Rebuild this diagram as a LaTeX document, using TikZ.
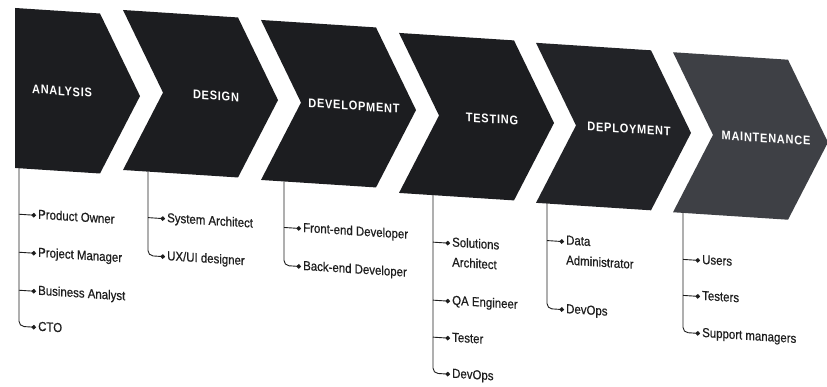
\documentclass[tikz,border=0pt]{standalone}
\usepackage{fontspec}
\setmainfont{Liberation Sans}
\newfontfamily\rolefont{Liberation Sans}[FakeStretch=0.88, FakeBold=0.6]
\newfontfamily\phasefont{Liberation Sans}[FakeStretch=0.88, LetterSpace=6]
\usepackage{xcolor}
\usetikzlibrary{arrows.meta, calc, positioning}

\definecolor{phasedark}{HTML}{1C1D20}
\definecolor{phasemid}{HTML}{222327}
\definecolor{phasegray}{HTML}{3E4045}
\definecolor{roleink}{HTML}{1E1E1E}

\tikzset{
    phase/.style={font=\phasefont\fontsize{12.5}{14}\selectfont\bfseries, text=white},
    roletext/.style={font=\rolefont\fontsize{13}{20}\selectfont, text=roleink, inner xsep=2pt, inner ysep=1pt},
    role/.style={roletext, anchor=west, text height=9pt, text depth=2.5pt},
    roletwo/.style={roletext, anchor=north west, align=left},
    branch/.style={draw=roleink, line width=0.9pt, -{Circle[length=4.5pt]}}
}

\begin{document}
\begin{tikzpicture}[x=1pt, y=-1pt]
    \useasboundingbox[fill=white] (0,0) rectangle (827,387);
    \begin{scope}[yslant=-0.065, transform shape]
        \begin{scope}[shift={(15,7)}]
            \fill[phasedark] (0,0) -- (85,0) -- (125,80) -- (85,160) -- (0,160) -- cycle;
            \node[phase] (analysis) at (47,80) {ANALYSIS};
            \coordinate (analysis-b) at (4,160);
        \end{scope}
        \begin{scope}[shift={(123,2)}]
            \fill[phasedark] (0,0) -- (115,0) -- (155,80) -- (115,160) -- (0,160) -- (40,80) -- cycle;
            \node[phase] (design) at (93,80) {DESIGN};
            \coordinate (design-b) at (25,160);
        \end{scope}
        \begin{scope}[shift={(261,3)}]
            \fill[phasedark] (0,0) -- (115,0) -- (155,80) -- (115,160) -- (0,160) -- (40,80) -- cycle;
            \node[phase] (development) at (93,80) {DEVELOPMENT};
            \coordinate (development-b) at (23,160);
        \end{scope}
        \begin{scope}[shift={(399,7)}]
            \fill[phasedark] (0,0) -- (115,0) -- (155,80) -- (115,160) -- (0,160) -- (40,80) -- cycle;
            \node[phase] (testing) at (93,80) {TESTING};
            \coordinate (testing-b) at (34,160);
        \end{scope}
        \begin{scope}[shift={(536,8)}]
            \fill[phasemid] (0,0) -- (115,0) -- (155,80) -- (115,160) -- (0,160) -- (40,80) -- cycle;
            \node[phase] (deployment) at (93,80) {DEPLOYMENT};
            \coordinate (deployment-b) at (11,160);
        \end{scope}
        \begin{scope}[shift={(673,8.5)}]
            \fill[phasegray] (0,0) -- (115,0) -- (155,80) -- (115,160) -- (0,160) -- (40,80) -- cycle;
            \node[phase] (maintenance) at (93,80) {MAINTENANCE};
            \coordinate (maintenance-b) at (10,160);
        \end{scope}

        \node[role] (analysis1) at (36,213) {Product Owner};
        \node[role] (analysis2) at (36,251) {Project Manager};
        \node[role] (analysis3) at (36,289) {Business Analyst};
        \node[role] (analysis4) at (36,325) {CTO};
        \draw[branch] (analysis1.west -| analysis-b) -- (analysis1.west);
        \draw[branch] (analysis2.west -| analysis-b) -- (analysis2.west);
        \draw[branch] (analysis3.west -| analysis-b) -- (analysis3.west);
        \draw[branch, rounded corners=5pt] (analysis-b) |- (analysis4.west);

        \node[role] (design1) at (165,208) {System Architect};
        \node[role] (design2) at (165,246) {UX/UI designer};
        \draw[branch] (design1.west -| design-b) -- (design1.west);
        \draw[branch, rounded corners=5pt] (design-b) |- (design2.west);

        \node[role] (development1) at (301,209) {Front-end Developer};
        \node[role] (development2) at (301,247) {Back-end Developer};
        \draw[branch] (development1.west -| development-b) -- (development1.west);
        \draw[branch, rounded corners=5pt] (development-b) |- (development2.west);

        \coordinate (testing1-p) at (450,214);
        \node[roletwo] (testing1) at (450,206.5) {Solutions\\Architect};
        \node[role] (testing2) at (450,272) {QA Engineer};
        \node[role] (testing3) at (450,309) {Tester};
        \node[role] (testing4) at (450,345) {DevOps};
        \draw[branch] (testing1-p -| testing-b) -- (testing1-p);
        \draw[branch] (testing2.west -| testing-b) -- (testing2.west);
        \draw[branch] (testing3.west -| testing-b) -- (testing3.west);
        \draw[branch, rounded corners=5pt] (testing-b) |- (testing4.west);

        \coordinate (deployment1-p) at (564,205);
        \node[roletwo] (deployment1) at (564,197.5) {Data\\Administrator};
        \node[role] (deployment2) at (564,273) {DevOps};
        \draw[branch] (deployment1-p -| deployment-b) -- (deployment1-p);
        \draw[branch, rounded corners=5pt] (deployment-b) |- (deployment2.west);

        \node[role] (maintenance1) at (700,215) {Users};
        \node[role] (maintenance2) at (700,251) {Testers};
        \node[role] (maintenance3) at (700,288) {Support managers};
        \draw[branch] (maintenance1.west -| maintenance-b) -- (maintenance1.west);
        \draw[branch] (maintenance2.west -| maintenance-b) -- (maintenance2.west);
        \draw[branch, rounded corners=5pt] (maintenance-b) |- (maintenance3.west);
    \end{scope}
\end{tikzpicture}
\end{document}
